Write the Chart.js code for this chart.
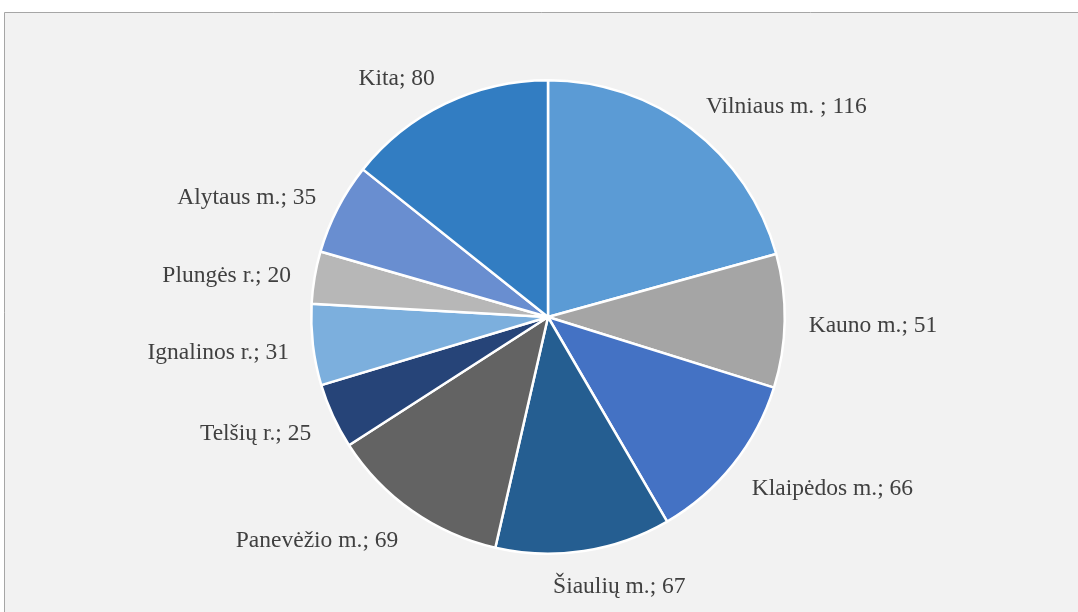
<!DOCTYPE html>
<html>
<head>
<meta charset="utf-8">
<script src="https://cdn.jsdelivr.net/npm/chart.js@4/dist/chart.umd.min.js"></script>
<style>
  html, body { margin: 0; padding: 0; background: #ffffff; }
  #wrap { width: 1078px; height: 612px; position: relative; }
</style>
</head>
<body>
<div id="wrap"><canvas id="pie"></canvas></div>
<script>
var labels = ['Vilniaus m. ', 'Kauno m.', 'Klaipėdos m.', 'Šiaulių m.', 'Panevėžio m.',
              'Telšių r.', 'Ignalinos r.', 'Plungės r.', 'Alytaus m.', 'Kita'];
var values = [116, 51, 66, 67, 69, 25, 31, 20, 35, 80];
var colors = ['#5b9bd5', '#a5a5a5', '#4472c4', '#255e91', '#636363',
              '#264478', '#7cafdd', '#b7b7b7', '#698ed0', '#327dc2'];

// grey panel with a thin border behind the pie
var panel = {
    id: 'panel',
    beforeDraw: function (chart) {
        var c = chart.ctx;
        c.save();
        c.fillStyle = '#ffffff';
        c.fillRect(0, 0, chart.width, chart.height);
        c.fillStyle = '#f2f2f2';
        c.fillRect(4, 12, chart.width, chart.height);
        c.strokeStyle = '#a6a6a6';
        c.lineWidth = 1;
        c.beginPath();
        c.moveTo(4.5, chart.height + 5);
        c.lineTo(4.5, 12.5);
        c.lineTo(chart.width + 5, 12.5);
        c.stroke();
        c.restore();
    }
};

// "name; value" labels outside each slice
var outLabels = {
    id: 'outLabels',
    afterDatasetsDraw: function (chart) {
        var c = chart.ctx;
        var arcs = chart.getDatasetMeta(0).data;
        c.save();
        c.font = '23.5px "Liberation Serif", "Times New Roman", serif';
        c.fillStyle = '#404040';
        c.textBaseline = 'middle';
        c.textAlign = 'left';
        arcs.forEach(function (arc, i) {
            var mid = (arc.startAngle + arc.endAngle) / 2;
            var r = arc.outerRadius + 24;
            var cx = Math.cos(mid), sy = Math.sin(mid);
            var x = arc.x + cx * r;
            var y = arc.y + sy * r + 4 + sy * 8;
            var txt = labels[i] + '; ' + values[i];
            var w = c.measureText(txt).width;
            var f = Math.min(1, Math.max(0, 0.5 - 1.6 * cx));
            c.fillText(txt, x - w * f, y);
        });
        c.restore();
    }
};

var ctx = document.getElementById('pie').getContext('2d');
var myChart = new Chart(ctx, {
    type: 'pie',
    data: {
        labels: labels,
        datasets: [{
            data: values,
            backgroundColor: colors,
            borderColor: '#ffffff',
            borderWidth: 2.5
        }]
    },
    options: {
        responsive: true,
        maintainAspectRatio: false,
        animation: false,
        layout: { padding: { top: 79, bottom: 57, left: 200, right: 182 } },
        plugins: {
            legend: { display: false },
            tooltip: { enabled: false }
        }
    },
    plugins: [panel, outLabels]
});
</script>
</body>
</html>
